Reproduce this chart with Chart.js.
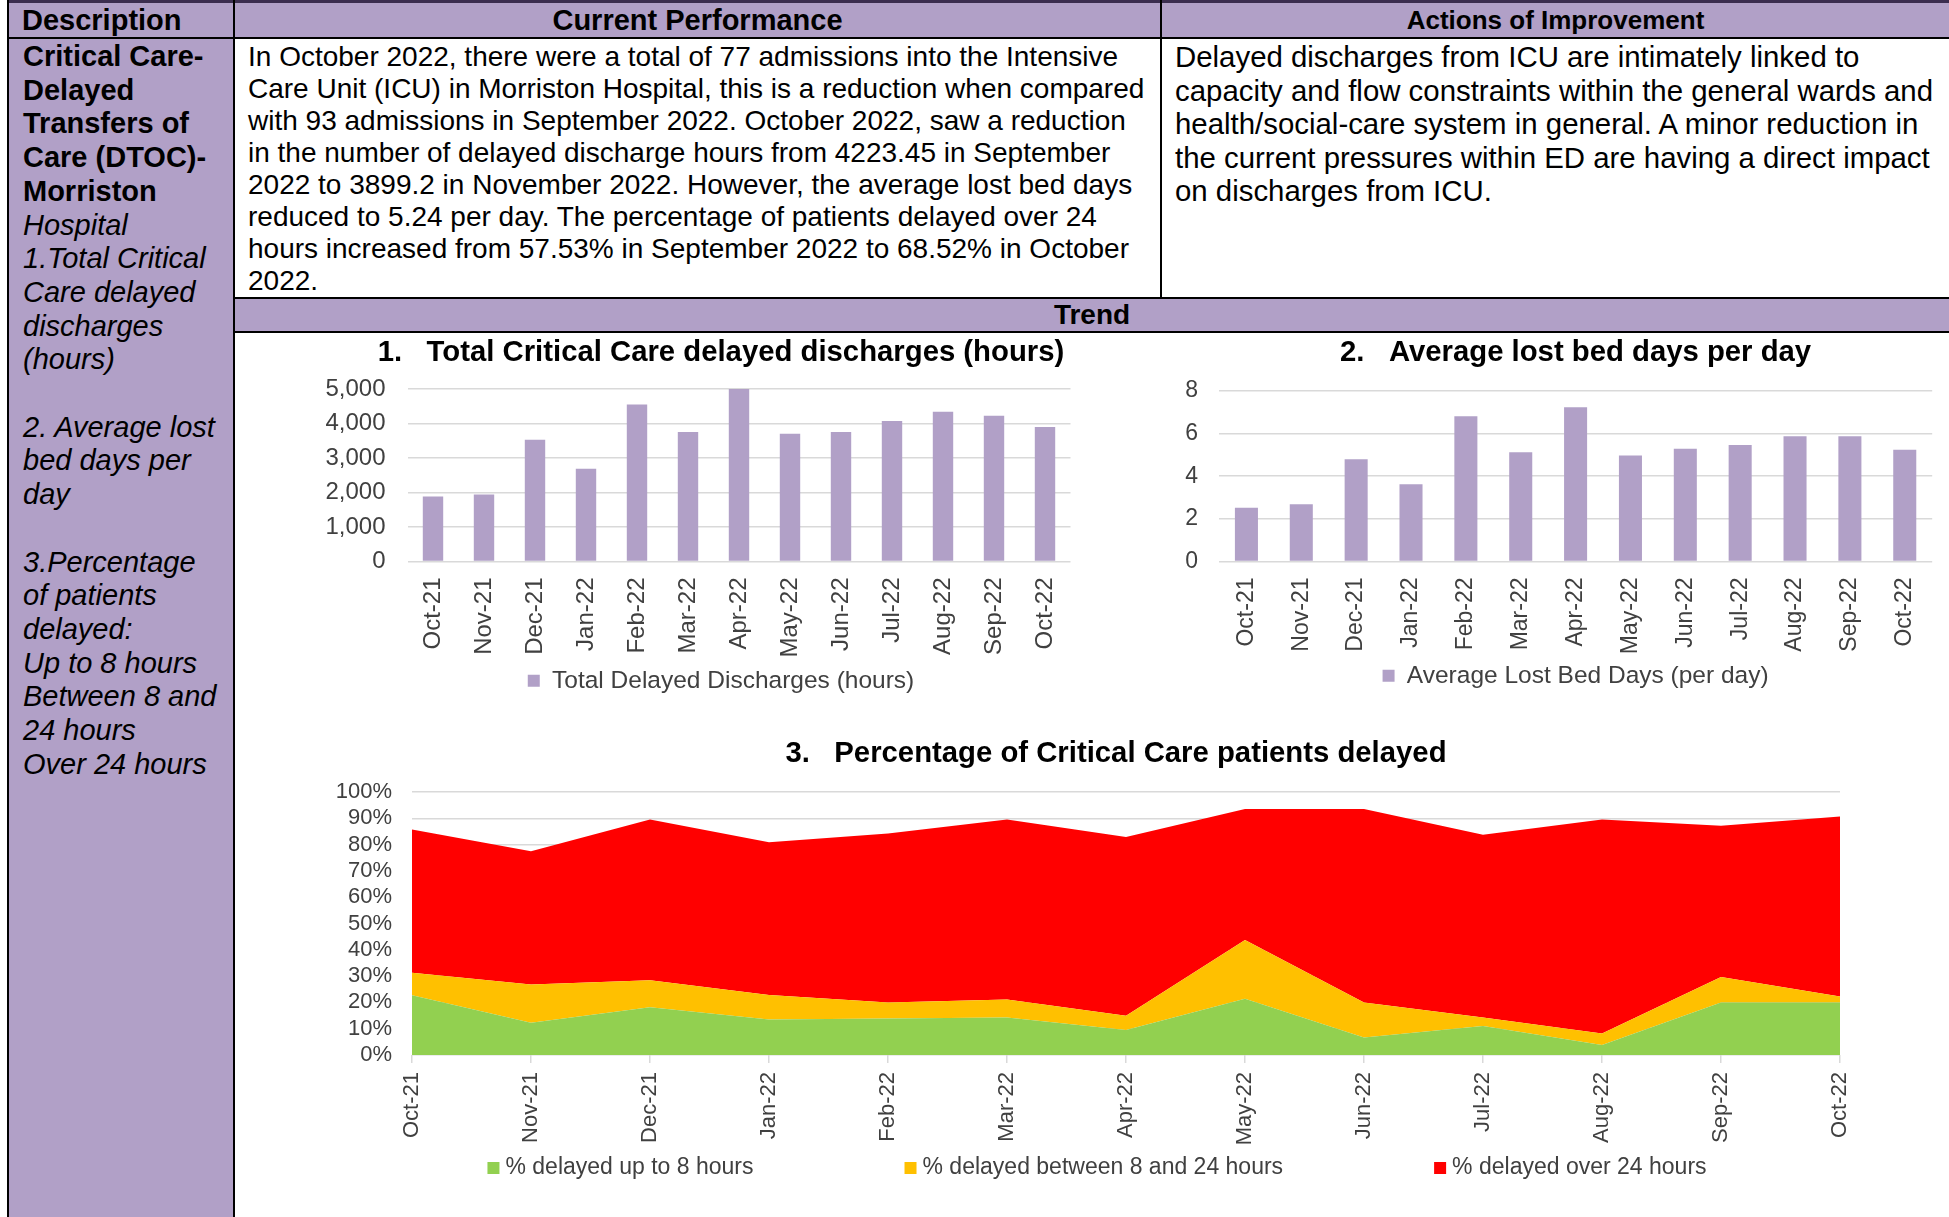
<!DOCTYPE html>
<html>
<head>
<meta charset="utf-8">
<title>Critical Care DTOC - Morriston</title>
<script src="https://cdn.jsdelivr.net/npm/chart.js@4.4.0/dist/chart.umd.min.js"></script>
<style>
    html, body { margin: 0; padding: 0; background: #fff; }
    body {
        width: 1949px;
        height: 1217px;
        position: relative;
        overflow: hidden;
        font-family: "Liberation Sans", Arial, sans-serif;
        color: #000;
    }
    .box { position: absolute; }
    .purple { background: #b1a0c7; }
    .line { position: absolute; background: #000; }
    .txt { position: absolute; white-space: nowrap; }
    .head { font-weight: bold; text-align: center; }
    .chart { position: absolute; }
</style>
</head>
<body>

<!-- fondos de la tabla -->
<div class="box purple" style="left:9px;top:3px;width:1940px;height:35px"></div>
<div class="box purple" style="left:9px;top:38px;width:225px;height:1179px"></div>
<div class="box purple" style="left:235px;top:299px;width:1714px;height:32px"></div>

<!-- bordes -->
<div class="line" style="left:7px;top:0;width:1942px;height:3px;background:#3b2d4f"></div>
<div class="line" style="left:7px;top:0;width:2px;height:1217px"></div>
<div class="line" style="left:233px;top:0;width:2px;height:1217px"></div>
<div class="line" style="left:7px;top:37px;width:1942px;height:2px"></div>
<div class="line" style="left:1160px;top:0;width:2px;height:299px"></div>
<div class="line" style="left:233px;top:297px;width:1716px;height:2px"></div>
<div class="line" style="left:233px;top:331px;width:1716px;height:2px"></div>

<!-- cabeceras -->
<div class="txt" style="left:22px;top:3px;height:35px;line-height:35px;font-size:29px;font-weight:bold">Description</div>
<div class="txt head" style="left:235px;top:3px;width:925px;height:35px;line-height:35px;font-size:29px">Current Performance</div>
<div class="txt head" style="left:1162px;top:3px;width:787px;height:35px;line-height:35px;font-size:26px">Actions of Improvement</div>
<div class="txt head" style="left:235px;top:299px;width:1714px;height:32px;line-height:32px;font-size:28px">Trend</div>

<!-- descripcion -->
<div class="txt" style="left:23px;top:40px;font-size:29px;line-height:33.7px">
    <b>Critical Care-<br>Delayed<br>Transfers of<br>Care (DTOC)-<br>Morriston</b><br>
    <i>Hospital<br>1.Total Critical<br>Care delayed<br>discharges<br>(hours)<br>&nbsp;<br>2. Average lost<br>bed days per<br>day<br>&nbsp;<br>3.Percentage<br>of patients<br>delayed:<br>Up to 8 hours<br>Between 8 and<br>24 hours<br>Over 24 hours</i>
</div>

<div class="txt" style="left:248px;top:41px;font-size:28px;line-height:32px">
    In October 2022, there were a total of 77 admissions into the Intensive<br>
    Care Unit (ICU) in Morriston Hospital, this is a reduction when compared<br>
    with 93 admissions in September 2022. October 2022, saw a reduction<br>
    in the number of delayed discharge hours from 4223.45 in September<br>
    2022 to 3899.2 in November 2022. However, the average lost bed days<br>
    reduced to 5.24 per day. The percentage of patients delayed over 24<br>
    hours increased from 57.53% in September 2022 to 68.52% in October<br>
    2022.
</div>

<div class="txt" style="left:1175px;top:40px;font-size:29.4px;line-height:33.6px">
    Delayed discharges from ICU are intimately linked to<br>
    capacity and flow constraints within the general wards and<br>
    health/social-care system in general. A minor reduction in<br>
    the current pressures within ED are having a direct impact<br>
    on discharges from ICU.
</div>

<!-- graficos -->
<div class="chart" style="left:290px;top:333px;width:862px;height:380px"><canvas id="hoursChart"></canvas></div>
<div class="chart" style="left:1165px;top:333px;width:784px;height:380px"><canvas id="bedDaysChart"></canvas></div>
<div class="chart" style="left:283px;top:722px;width:1666px;height:495px"><canvas id="percentChart"></canvas></div>

<script>
// Datos
const months = ['Oct-21', 'Nov-21', 'Dec-21', 'Jan-22', 'Feb-22', 'Mar-22', 'Apr-22',
                'May-22', 'Jun-22', 'Jul-22', 'Aug-22', 'Sep-22', 'Oct-22'];
const delayedHours = [1880, 1940, 3530, 2690, 4550, 3750, 5030, 3700, 3750, 4070, 4340, 4223, 3899];
const lostBedDays = [2.52, 2.69, 4.80, 3.62, 6.81, 5.12, 7.23, 4.97, 5.29, 5.46, 5.88, 5.88, 5.24];
const upTo8 = [22.7, 12.3, 18.2, 13.5, 13.9, 14.3, 9.5, 21.4, 6.7, 11.0, 3.8, 20.0, 20.0];
const between8and24 = [8.6, 14.5, 10.2, 9.3, 6.1, 6.8, 5.4, 22.3, 13.3, 3.3, 4.4, 9.7, 2.2];
const over24 = [54.4, 50.7, 61.1, 58.1, 64.2, 68.4, 68.0, 49.8, 73.5, 69.4, 81.3, 57.5, 68.5];

const FONT = "'Liberation Sans', Arial, sans-serif";
const LAVENDER = '#b1a0c7';
const GRID = '#d9d9d9';
const TEXT = '#404040';

Chart.defaults.font.family = FONT;
Chart.defaults.color = TEXT;
Chart.defaults.animation = false;

// Leyenda en una fila con separacion amplia (grafico 3)
const wideLegend = {
    id: 'wideLegend',
    afterDraw(chart, args, opts) {
        const ctx = chart.ctx;
        const area = chart.chartArea;
        ctx.save();
        ctx.font = opts.fontSize + 'px ' + FONT;
        ctx.textBaseline = 'middle';
        ctx.textAlign = 'left';
        const items = chart.data.datasets.map(ds => ({
            text: ds.label,
            color: ds.backgroundColor,
            w: ctx.measureText(ds.label).width
        }));
        const total = items.reduce((s, it) => s + opts.box + opts.gap + it.w, 0) + opts.spacing * (items.length - 1);
        let x = (area.left + area.right) / 2 + opts.shift - total / 2;
        const y = area.bottom + opts.offsetY;
        items.forEach(it => {
            ctx.fillStyle = it.color;
            ctx.fillRect(x, y - opts.box / 2, opts.box, opts.box);
            x += opts.box + opts.gap;
            ctx.fillStyle = TEXT;
            ctx.fillText(it.text, x, y);
            x += it.w + opts.spacing;
        });
        ctx.restore();
    }
};

function titleOpts(text, top, bottom, fullSize) {
    return {
        display: true,
        text: text,
        color: '#000',
        fullSize: fullSize,
        font: { size: 29.3, weight: 'bold', family: FONT },
        padding: { top: top, bottom: bottom }
    };
}

// eje vacio a la derecha: solo reserva espacio para centrar titulo y leyenda
function spacerAxis(width) {
    return {
        position: 'right',
        display: true,
        ticks: { display: false },
        grid: { display: false },
        border: { display: false },
        afterFit: s => { s.width = width; }
    };
}

function barChart(id, label, values, opts) {
    const ctx = document.getElementById(id).getContext('2d');
    return new Chart(ctx, {
        type: 'bar',
        data: {
            labels: months,
            datasets: [{
                label: label,
                data: values,
                backgroundColor: LAVENDER,
                borderWidth: 0,
                barPercentage: opts.barPct,
                categoryPercentage: 1.0
            }]
        },
        options: {
            responsive: true,
            maintainAspectRatio: false,
            layout: { padding: { left: 0, right: opts.padRight, top: 0, bottom: opts.padBottom } },
            plugins: {
                title: titleOpts(opts.title, 2, opts.titleGap, opts.fullSize),
                legend: {
                    display: true,
                    position: 'bottom',
                    fullSize: opts.fullSize,
                    labels: {
                        boxWidth: 12,
                        boxHeight: 12,
                        padding: 10,
                        color: TEXT,
                        font: { size: 24.5, family: FONT }
                    }
                },
                tooltip: { enabled: false }
            },
            scales: {
                x: {
                    grid: { display: false, drawTicks: false },
                    border: { display: false },
                    ticks: {
                        minRotation: 90,
                        maxRotation: 90,
                        autoSkip: false,
                        padding: 16,
                        color: TEXT,
                        font: { size: opts.tickSize }
                    },
                    afterFit: s => { s.height = opts.xHeight; }
                },
                y: {
                    min: 0,
                    max: opts.max,
                    grid: { color: GRID, lineWidth: 1.5, drawTicks: false },
                    border: { display: false },
                    ticks: {
                        stepSize: opts.step,
                        autoSkip: false,
                        padding: opts.tickPad,
                        color: TEXT,
                        font: { size: opts.tickSize }
                    },
                    afterFit: s => { s.width = opts.yWidth; }
                },
                ySpacer: spacerAxis(opts.spacer)
            }
        }
    });
}

barChart('hoursChart', 'Total Delayed Discharges (hours)', delayedHours, {
    title: '1.   Total Critical Care delayed discharges (hours)',
    fullSize: true, barPct: 0.4, max: 5000, step: 1000, tickSize: 24,
    padRight: 0, spacer: 81.5, padBottom: 10, titleGap: 18.8,
    xHeight: 97, yWidth: 117.5, tickPad: 22
});

barChart('bedDaysChart', 'Average Lost Bed Days (per day)', lostBedDays, {
    title: '2.   Average lost bed days per day',
    fullSize: false, barPct: 0.42, max: 8, step: 2, tickSize: 23,
    padRight: 1, spacer: 0, padBottom: 15, titleGap: 20.8,
    xHeight: 92, yWidth: 54, tickPad: 21
});

function areaSet(label, values, color, fill) {
    return {
        label: label,
        data: values,
        backgroundColor: color,
        borderColor: color,
        borderWidth: 0,
        pointRadius: 0,
        tension: 0,
        fill: fill
    };
}

new Chart(document.getElementById('percentChart').getContext('2d'), {
    type: 'line',
    data: {
        labels: months,
        datasets: [
            areaSet('% delayed up to 8 hours', upTo8, '#92d050', 'origin'),
            areaSet('% delayed between 8 and 24 hours', between8and24, '#ffc000', '-1'),
            areaSet('% delayed over 24 hours', over24, '#ff0000', '-1')
        ]
    },
    plugins: [wideLegend],
    options: {
        responsive: true,
        maintainAspectRatio: false,
        layout: { padding: { left: 0, right: 0, top: 0, bottom: 67 } },
        plugins: {
            title: titleOpts('3.   Percentage of Critical Care patients delayed', 14, 20.8, true),
            legend: { display: false },
            tooltip: { enabled: false },
            wideLegend: { box: 12, gap: 6, spacing: 151, offsetY: 113, shift: -29, fontSize: 23 }
        },
        scales: {
            x: {
                offset: false,
                grid: { drawOnChartArea: false, drawTicks: true, tickLength: 8, color: GRID, lineWidth: 1.5 },
                border: { display: false },
                ticks: {
                    minRotation: 90,
                    maxRotation: 90,
                    autoSkip: false,
                    padding: 9,
                    color: TEXT,
                    font: { size: 22 }
                },
                afterFit: s => { s.height = 95; }
            },
            y: {
                stacked: true,
                min: 0,
                max: 100,
                grid: { color: GRID, lineWidth: 1.5, drawTicks: false },
                border: { display: false },
                ticks: {
                    stepSize: 10,
                    autoSkip: false,
                    padding: 20,
                    color: TEXT,
                    font: { size: 22 },
                    callback: v => v + '%'
                },
                afterFit: s => { s.width = 129; }
            },
            ySpacer: spacerAxis(109)
        }
    }
});
</script>
</body>
</html>
